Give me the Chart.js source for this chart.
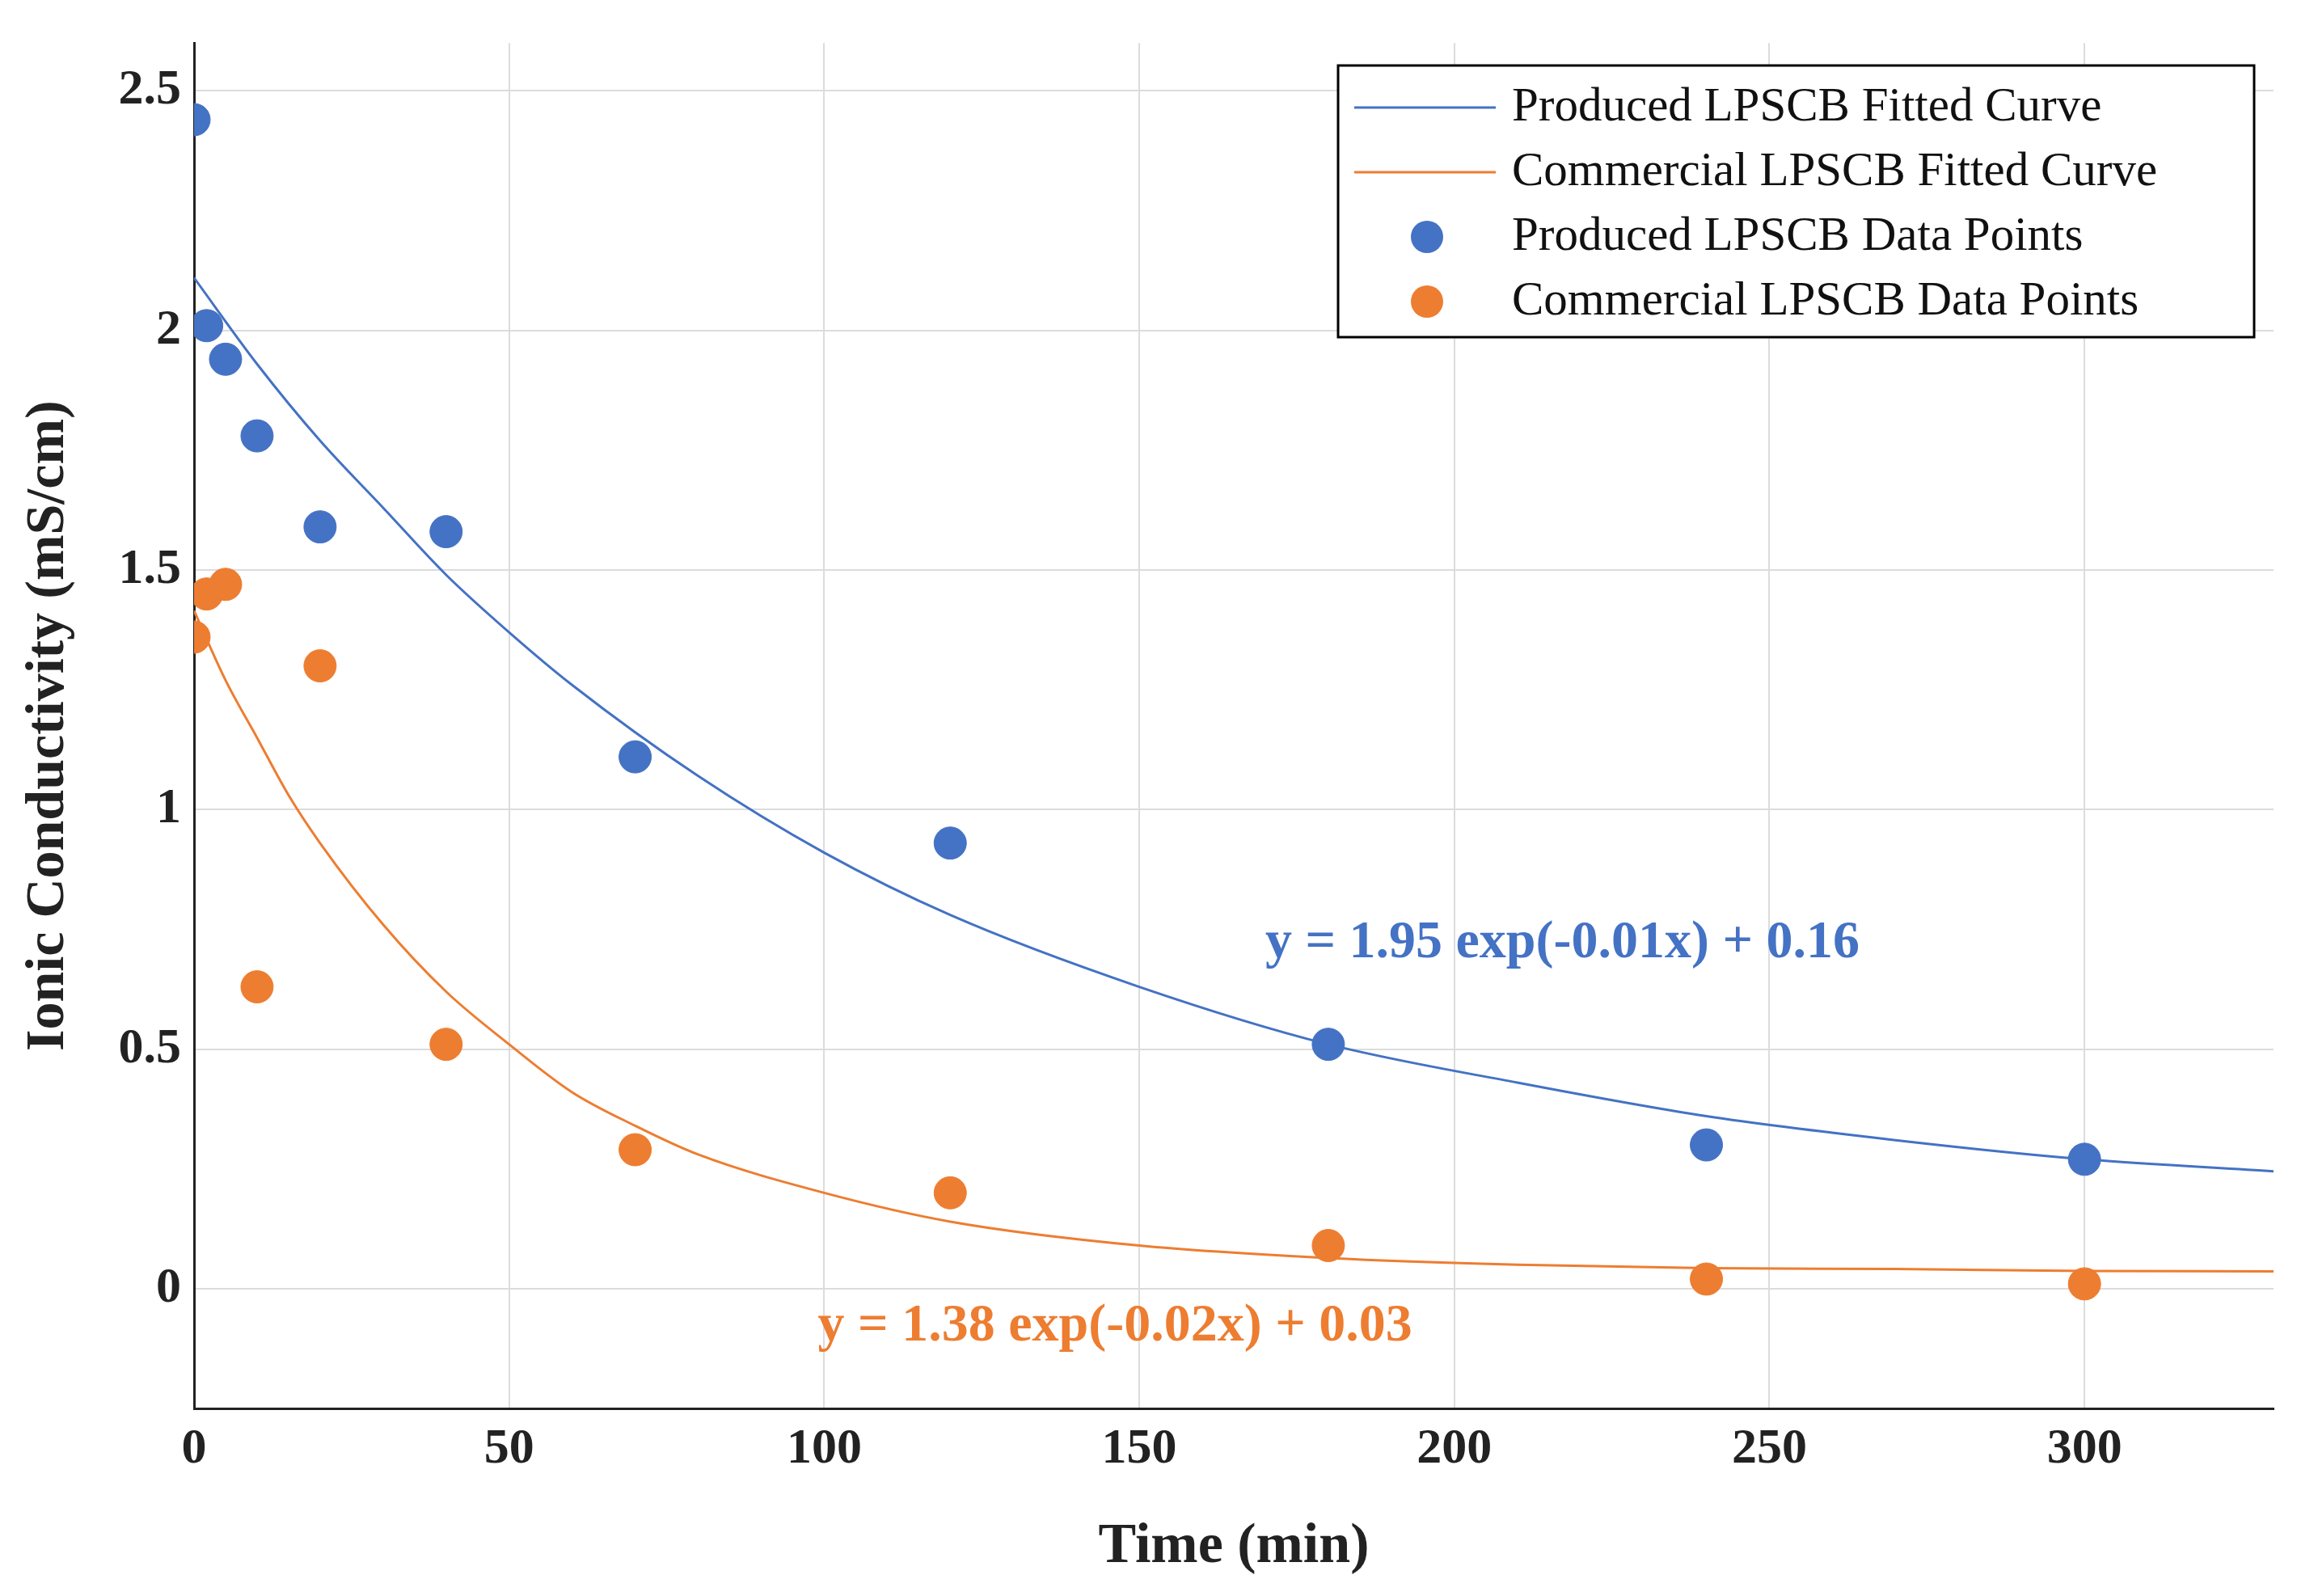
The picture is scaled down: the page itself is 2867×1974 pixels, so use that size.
<!DOCTYPE html>
<html>
<head>
<meta charset="utf-8">
<script src="https://cdn.jsdelivr.net/npm/chart.js@4.4.0/dist/chart.umd.min.js"></script>
<style>
  html, body { margin: 0; padding: 0; background: #fff; }
  #wrap { width: 2867px; height: 1974px; }
</style>
</head>
<body>
<div id="wrap"><canvas id="chart" width="2867" height="1974"></canvas></div>
<script>
// Measured data points (time in min, conductivity in mS/cm)
const timePoints = [0, 2, 5, 10, 20, 40, 70, 120, 180, 240, 300];
const producedValues = [2.44, 2.01, 1.94, 1.78, 1.59, 1.58, 1.11, 0.93, 0.51, 0.30, 0.27];
const commercialValues = [1.36, 1.45, 1.47, 0.63, 1.30, 0.51, 0.29, 0.20, 0.09, 0.02, 0.01];

// Fitted curves
const producedFitX = [0, 10, 20, 30, 40, 50, 60, 80, 100, 120, 150, 180, 210, 240, 270, 300, 330];
const producedFitY = [2.11, 1.93, 1.77, 1.63, 1.49, 1.37, 1.26, 1.07, 0.91, 0.78, 0.63, 0.51, 0.43, 0.36, 0.31, 0.27, 0.245];
const commercialFitX = [0, 5, 10, 15, 20, 30, 40, 50, 60, 70, 80, 100, 120, 150, 180, 210, 240, 270, 300, 330];
const commercialFitY = [1.415, 1.27, 1.15, 1.03, 0.93, 0.76, 0.62, 0.51, 0.41, 0.34, 0.28, 0.20, 0.14, 0.09, 0.064, 0.05, 0.043, 0.041, 0.037, 0.036];

const xTicks = [0, 50, 100, 150, 200, 250, 300];
const yTicks = [0, 0.5, 1, 1.5, 2, 2.5];

const BLUE = '#4472C4';
const ORANGE = '#ED7D31';
const FONT = '"Liberation Serif", "DejaVu Serif", serif';

const pairs = (xs, ys) => xs.map((x, i) => ({ x: x, y: ys[i] }));

const legendItems = [
  { label: 'Produced LPSCB Fitted Curve', color: BLUE, kind: 'line' },
  { label: 'Commercial LPSCB Fitted Curve', color: ORANGE, kind: 'line' },
  { label: 'Produced LPSCB Data Points', color: BLUE, kind: 'dot' },
  { label: 'Commercial LPSCB Data Points', color: ORANGE, kind: 'dot' }
];

const overlay = {
  id: 'overlay',
  afterDraw(chart) {
    const ctx = chart.ctx;
    const xs = chart.scales.x, ys = chart.scales.y;
    ctx.save();
    // equations
    ctx.font = 'bold 66px ' + FONT;
    ctx.textBaseline = 'middle';
    ctx.textAlign = 'left';
    ctx.fillStyle = BLUE;
    ctx.fillText('y = 1.95 exp(-0.01x) + 0.16', xs.getPixelForValue(170), ys.getPixelForValue(0.72));
    ctx.fillStyle = ORANGE;
    ctx.fillText('y = 1.38 exp(-0.02x) + 0.03', xs.getPixelForValue(99), ys.getPixelForValue(-0.08));

    // legend box
    const bx = 1655, by = 81, bw = 1133, bh = 336;
    ctx.fillStyle = '#fff';
    ctx.fillRect(bx, by, bw, bh);
    ctx.strokeStyle = '#000';
    ctx.lineWidth = 3;
    ctx.strokeRect(bx, by, bw, bh);
    ctx.font = '59px ' + FONT;
    legendItems.forEach((it, i) => {
      const cy = by + 52 + i * 80;
      if (it.kind === 'line') {
        ctx.strokeStyle = it.color;
        ctx.lineWidth = 3;
        ctx.beginPath();
        ctx.moveTo(bx + 20, cy);
        ctx.lineTo(bx + 195, cy);
        ctx.stroke();
      } else {
        ctx.fillStyle = it.color;
        ctx.beginPath();
        ctx.arc(bx + 110, cy, 20, 0, Math.PI * 2);
        ctx.fill();
      }
      ctx.fillStyle = '#111';
      ctx.fillText(it.label, bx + 215, cy);
    });
    ctx.restore();
  }
};

new Chart(document.getElementById('chart'), {
  type: 'scatter',
  data: {
    datasets: [
      { type: 'line', data: pairs(producedFitX, producedFitY), borderColor: BLUE, borderWidth: 3, pointRadius: 0, cubicInterpolationMode: 'monotone' },
      { type: 'line', data: pairs(commercialFitX, commercialFitY), borderColor: ORANGE, borderWidth: 3, pointRadius: 0, cubicInterpolationMode: 'monotone' },
      { data: pairs(timePoints, producedValues), backgroundColor: BLUE, borderColor: BLUE, pointRadius: 20 },
      { data: pairs(timePoints, commercialValues), backgroundColor: ORANGE, borderColor: ORANGE, pointRadius: 20 }
    ]
  },
  options: {
    responsive: false,
    animation: false,
    layout: { padding: { top: 14, right: 55, left: 0, bottom: 0 } },
    plugins: { legend: { display: false }, tooltip: { enabled: false } },
    scales: {
      x: {
        type: 'linear', min: 0, max: 330,
        afterBuildTicks: s => { s.ticks = xTicks.map(v => ({ value: v })); },
        afterFit: s => { s.height = 232; },
        grid: { color: '#dcdcdc', lineWidth: 2, drawTicks: false },
        border: { color: '#222', width: 3 },
        ticks: { font: { family: FONT, size: 62, weight: 'bold' }, color: '#222', padding: 14 },
        title: { display: true, text: 'Time (min)', font: { family: FONT, size: 70, weight: 'bold' }, color: '#222', padding: { top: 0, bottom: 18 } }
      },
      y: {
        type: 'linear', min: -0.25, max: 2.6,
        afterBuildTicks: s => { s.ticks = yTicks.map(v => ({ value: v })); },
        afterFit: s => { s.width = 240; },
        grid: { color: '#dcdcdc', lineWidth: 2, drawTicks: false },
        border: { color: '#222', width: 3 },
        ticks: { font: { family: FONT, size: 62, weight: 'bold' }, color: '#222', padding: 16, callback: v => String(v) },
        title: { display: true, text: 'Ionic Conductivity (mS/cm)', font: { family: FONT, size: 68, weight: 'bold' }, color: '#222', padding: { top: 20, bottom: 10 } }
      }
    }
  },
  plugins: [overlay]
});
</script>
</body>
</html>
